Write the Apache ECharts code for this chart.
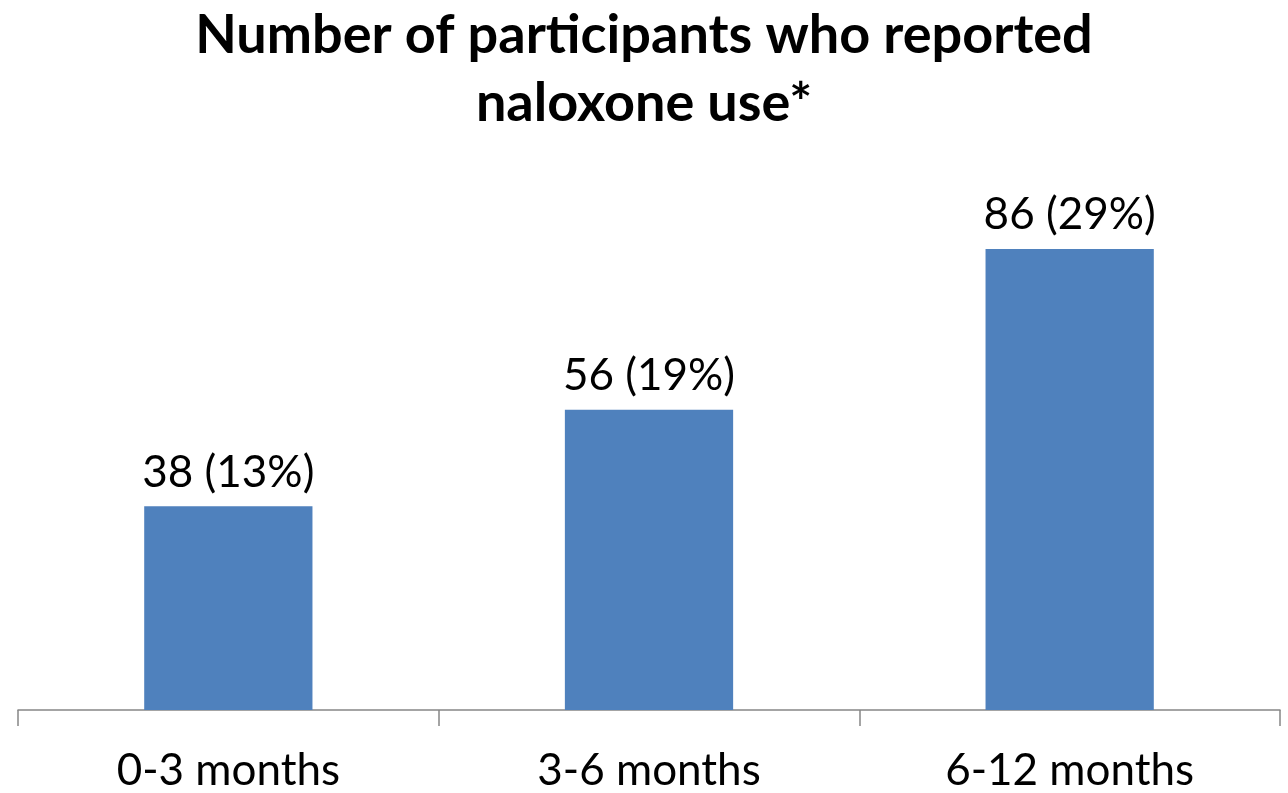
<!DOCTYPE html>
<html>
<head>
<meta charset="utf-8">
<script src="https://cdn.jsdelivr.net/npm/echarts@6/dist/echarts.min.js"></script>
<style>
  html, body { margin: 0; padding: 0; background: #ffffff; }
  #chart { width: 1288px; height: 793px; }
</style>
</head>
<body>
<div id="chart"></div>
<script>
// Follow-up periods and how many participants reported using naloxone
const categories = ['0-3 months', '3-6 months', '6-12 months'];
const counts = [38, 56, 86];
const percents = [13, 19, 29];

const FONT = 'Lato, "Open Sans", sans-serif';

const chart = echarts.init(document.getElementById('chart'));
chart.setOption({
  animation: false,
  title: {
    text: 'Number of participants who reported\nnaloxone use*',
    left: 'center',
    top: -3,
    textStyle: {
      fontFamily: FONT,
      fontWeight: 'bold',
      fontSize: 54,
      lineHeight: 68,
      color: '#000000'
    }
  },
  grid: { left: 18, right: 8, top: 174, bottom: 78 },
  xAxis: {
    type: 'category',
    data: categories,
    axisLine: { lineStyle: { color: '#868686', width: 1.5 } },
    axisTick: { show: true, length: 16, lineStyle: { color: '#868686', width: 1.5 } },
    axisLabel: {
      margin: 39,
      fontFamily: FONT,
      fontSize: 44,
      color: '#000000'
    }
  },
  yAxis: {
    type: 'value',
    min: 0,
    max: 100,
    show: false
  },
  series: [{
    type: 'bar',
    data: counts,
    barWidth: '40%',
    itemStyle: { color: '#4F81BD' },
    label: {
      show: true,
      position: 'top',
      distance: 12,
      fontFamily: FONT,
      fontSize: 44,
      color: '#000000',
      formatter: p => `${counts[p.dataIndex]} (${percents[p.dataIndex]}%)`
    }
  }]
});
</script>
</body>
</html>
